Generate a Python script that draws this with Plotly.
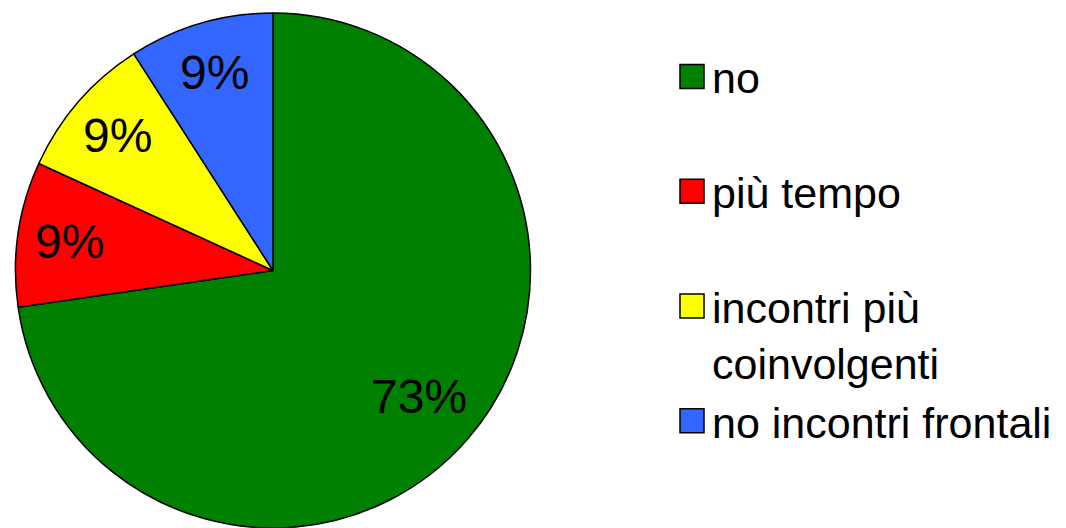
import math
import plotly.graph_objects as go

labels = ["no", "più tempo", "incontri più coinvolgenti", "no incontri frontali"]
legend_labels = ["no<br> ", "più tempo<br> ", "incontri più<br>coinvolgenti", "no incontri frontali"]
values = [8, 1, 1, 1]
colors = ["#008000", "#FF0000", "#FFFF00", "#3366FF"]

W, H = 1066, 528
top = 13
R = (H - top) / 2
cx, cy = 273, top + R
label_fracs = [0.75, 0.8, 0.8, 0.8]

fig = go.Figure(go.Pie(
    labels=legend_labels,
    values=values,
    sort=False,
    direction="clockwise",
    rotation=0,
    marker=dict(colors=colors, line=dict(color="black", width=1.5)),
    textinfo="none",
    domain=dict(x=[(cx - R) / W, (cx + R) / W], y=[0, 1 - top / H]),
    hoverinfo="label+percent",
))

# percentage labels placed along each slice's bisector (derived from values)
total = sum(values)
cum = 0
for v, frac in zip(values, label_fracs):
    mid = (cum + v / 2) / total * 2 * math.pi
    cum += v
    dx = math.sin(mid) * R * frac
    dy = math.cos(mid) * R * frac
    fig.add_annotation(
        x=(cx + dx) / W, y=(H - cy + dy) / H, xref="paper", yref="paper",
        text=f"{round(100 * v / total)}%", showarrow=False,
        font=dict(family="Liberation Sans, Arial, sans-serif", size=48, color="black"),
        xanchor="center", yanchor="middle",
    )

fig.update_layout(
    width=W, height=H,
    margin=dict(l=0, r=0, t=0, b=0),
    paper_bgcolor="white",
    plot_bgcolor="white",
    font=dict(family="Liberation Sans, Arial, sans-serif", color="black"),
    legend=dict(
        x=672 / W, xanchor="left",
        y=1 - 42 / H, yanchor="top",
        font=dict(size=43, color="black"),
        valign="top",
        bgcolor="rgba(0,0,0,0)",
    ),
    showlegend=True,
)

post = """
document.body.style.margin = '0';
function fixLegend(){
  document.querySelectorAll('path.legendpie').forEach(function(p){
    p.setAttribute('d','M12,12H-12V-12H12Z');
  });
}
fixLegend();
var gd = document.getElementsByClassName('plotly-graph-div')[0];
if (gd && gd.on) { gd.on('plotly_afterplot', fixLegend); }
"""

fig.write_html("out.html", post_script=post, config={"displayModeBar": False})
